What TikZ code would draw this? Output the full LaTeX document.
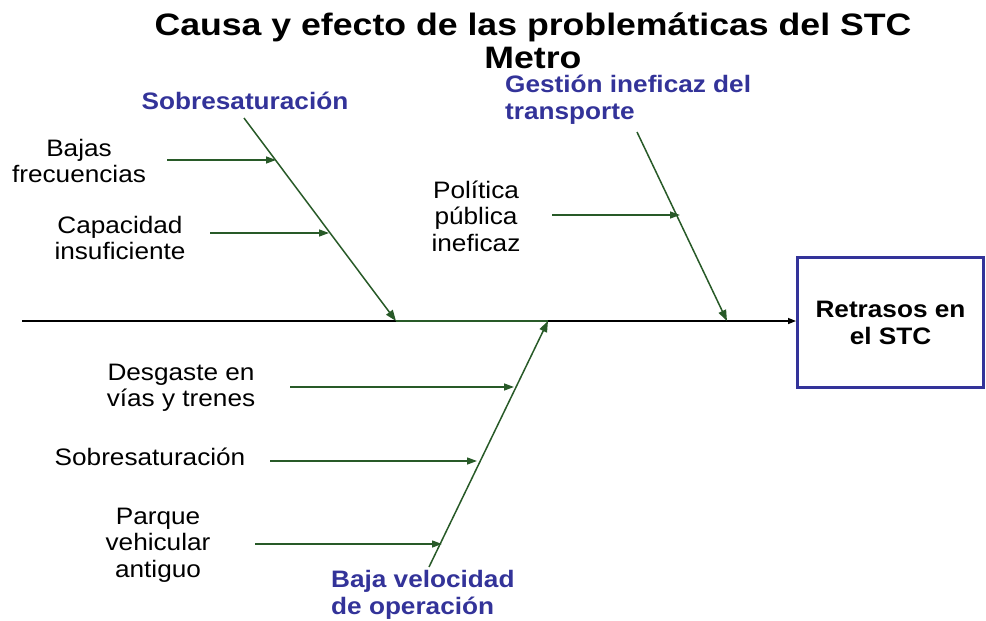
\documentclass[tikz,border=0pt]{standalone}
\usepackage{fontspec}
\setmainfont{Liberation Sans}[FakeStretch=1.1]
\newfontfamily\titlefont{Liberation Sans}[FakeStretch=1.15]
\usetikzlibrary{arrows.meta}
\definecolor{bonegreen}{RGB}{40,90,40}
\definecolor{catblue}{RGB}{51,51,153}
\begin{document}
\begin{tikzpicture}[x=1pt,y=-1pt,
  body/.style={align=center,font=\fontsize{23.8}{26.5}\selectfont,inner sep=0pt},
  cat/.style={align=left,font=\fontsize{23.8}{27}\selectfont\bfseries,text=catblue,inner sep=0pt},
  garrow/.style={draw=bonegreen,line width=1.3pt,-{Triangle[length=10pt,width=7pt]}},
  bone/.style={draw=bonegreen,line width=1.5pt,-{Triangle[length=11pt,width=8pt]}}]
\useasboundingbox (0,0) rectangle (986,621);
% title
\node[align=center,font=\titlefont\fontsize{31}{33}\selectfont\bfseries,inner sep=0pt] (title) at (533,41) {Causa y efecto de las problemáticas del STC\\Metro};
% effect box
\node[draw=catblue,line width=3pt,minimum width=186pt,minimum height=130pt,inner sep=0pt,align=center,font=\fontsize{23.8}{27}\selectfont\bfseries] (effect) at (890.5,322.5) {Retrasos en\\el STC};
% spine
\coordinate (tail) at (22,321);
\coordinate (j1) at (396,321);
\coordinate (j3) at (548,321);
\coordinate (j2) at (727,321);
\draw[line width=1.4pt,-{Triangle[length=8pt,width=6pt]}] (tail) -- (tail -| effect.west);
\draw[draw=bonegreen,line width=1.4pt] (j1) -- (j3);
% categories
\node[cat,anchor=center] (c1) at (245,101) {Sobresaturación};
\node[cat,anchor=west] (c2) at (505,100) {Gestión ineficaz del\\transporte};
\node[cat,anchor=west] (c3) at (331,595) {Baja velocidad\\de operación};
% bone endpoints
\coordinate (b1) at (244,118);
\coordinate (b2) at (637,132);
\coordinate (b3) at (429,567);
\draw[bone] (b1) -- (j1);
\draw[bone] (b2) -- (j2);
\draw[bone] (b3) -- (j3);
% causes
\node[body] (a1) at (79,161) {Bajas\\frecuencias};
\node[body] (a2) at (120,238) {Capacidad\\insuficiente};
\node[body] (a3) at (476,216) {Política\\pública\\ineficaz};
\node[body] (a4) at (181,388) {Desgaste en\\vías y trenes};
\node[body] (a5) at (150,457) {Sobresaturación};
\node[body] (a6) at (158,545) {Parque\\vehicular\\antiguo};
% cause arrow starts and tips
\coordinate (s1) at (167,160); \coordinate (t1) at (276,160);
\coordinate (s2) at (210,233); \coordinate (t2) at (329,233);
\coordinate (s3) at (552,215); \coordinate (t3) at (680,215);
\coordinate (s4) at (290,387); \coordinate (t4) at (514,387);
\coordinate (s5) at (270,461); \coordinate (t5) at (477,461);
\coordinate (s6) at (255,544); \coordinate (t6) at (442,544);
\draw[garrow] (s1) -- (t1);
\draw[garrow] (s2) -- (t2);
\draw[garrow] (s3) -- (t3);
\draw[garrow] (s4) -- (t4);
\draw[garrow] (s5) -- (t5);
\draw[garrow] (s6) -- (t6);
\end{tikzpicture}
\end{document}
